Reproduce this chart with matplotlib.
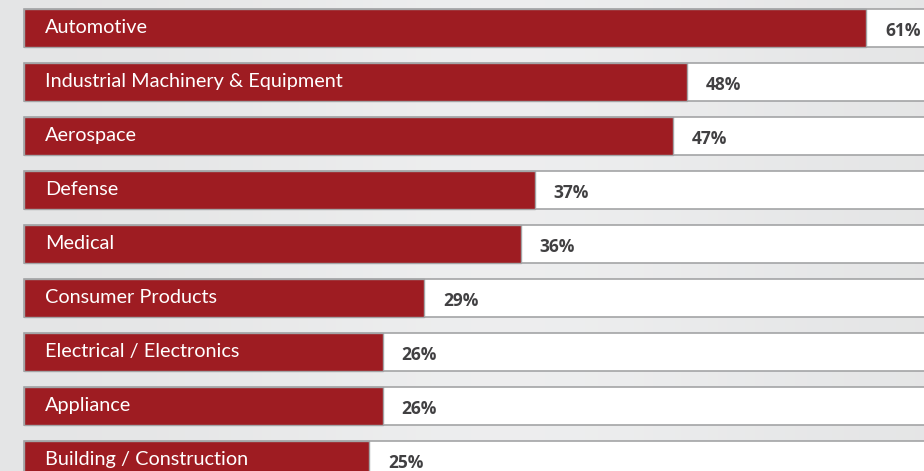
import matplotlib.pyplot as plt
import numpy as np

categories = [
    "Automotive",
    "Industrial Machinery & Equipment",
    "Aerospace",
    "Defense",
    "Medical",
    "Consumer Products",
    "Electrical / Electronics",
    "Appliance",
    "Building / Construction",
]
values = [61, 48, 47, 37, 36, 29, 26, 26, 25]
labels = [f"{v}%" for v in values]

RED = "#9e1c22"
EDGE = "#a3a4a6"
TXT = "#414042"

fig = plt.figure(figsize=(9.24, 4.71), dpi=100)
ax = fig.add_axes([0, 0, 1, 1])
x0, x1 = -24 / 13.81, 900 / 13.81
y_top, y_bot = -28 / 54, (471 - 28) / 54
ax.set_xlim(x0, x1)
ax.set_ylim(y_bot, y_top)
ax.axis("off")

# soft gray background gradient
t = np.linspace(0, 1, 300)
grad = 0.895 + 0.035 * np.exp(-((t - 0.55) / 0.3) ** 2)
img = np.stack([grad, grad + 0.003, grad + 0.006], axis=-1)[None, :, :].clip(0, 1)
ax.imshow(img, extent=[x0, x1, y_bot, y_top], aspect="auto", zorder=0)

y = np.arange(len(categories))
h = 38 / 54
ax.barh(y, 80, left=0, height=h, color="white", edgecolor=EDGE, linewidth=1.2, zorder=1)
ax.barh(y, values, left=0, height=h, color=RED, edgecolor=EDGE, linewidth=1.0, zorder=2)

for yi, cat, v, lab in zip(y, categories, values, labels):
    ax.text(1.5, yi - 0.01, cat, color="white", fontsize=14.3, family="Lato",
            va="center", ha="left", zorder=3)
    ax.text(v + 1.35, yi + 0.05, lab, color=TXT, fontsize=12.5, family="Open Sans",
            fontweight="bold", va="center", ha="left", zorder=3)

fig.savefig("out.png", dpi=100)
